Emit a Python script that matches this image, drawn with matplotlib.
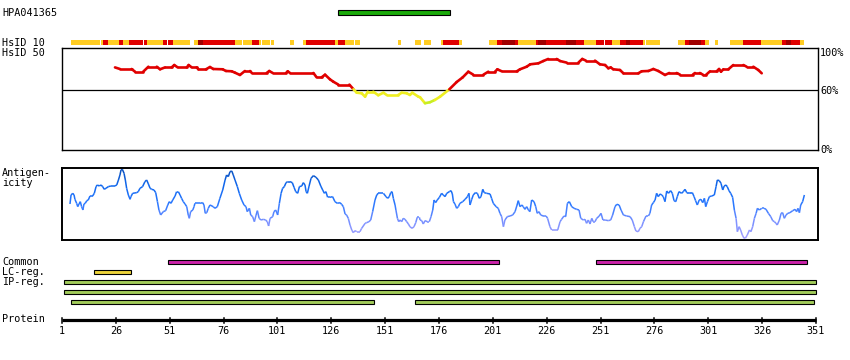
import matplotlib
matplotlib.use("Agg")
import matplotlib.pyplot as plt
from matplotlib.collections import LineCollection
from matplotlib.colors import LinearSegmentedColormap, Normalize

# ---- data (residue positions) ----
antibody = "HPA041365"
seq_len = 351
epitope = (129, 181)

# HsID 10 track: start, end, level (0 = yellow, 1 = red, 2 = dark red)
hs10_start = [5.2, 19.1, 20.0, 22.4, 27.6, 29.2, 32.1, 39.2, 40.5, 47.7, 50.2, 52.5, 62.3, 64.1,
              66.5, 76.3, 81.3, 85.2, 89.1, 92.5, 93.7, 98.0, 106.8, 112.9, 114.3, 127.7, 129.1,
              132.4, 137.0, 157.0, 164.9, 169.0, 176.9, 177.9, 185.3, 199.2, 202.9, 205.2, 211.3,
              212.7, 221.0, 221.9, 225.7, 235.0, 239.6, 243.3, 248.9, 253.1, 256.3, 260.0, 262.8,
              264.7, 270.7, 272.1, 286.9, 290.2, 292.0, 297.6, 299.5, 304.1, 311.1, 317.1, 325.5,
              335.2, 337.1, 339.4, 343.6]
hs10_end = [18.6, 20.0, 22.4, 27.6, 29.2, 32.1, 38.7, 40.5, 47.7, 49.6, 52.5, 60.4, 64.1, 66.5,
            76.1, 81.3, 84.7, 89.1, 92.5, 93.2, 97.6, 99.4, 108.7, 114.3, 127.7, 129.1, 132.4,
            136.5, 139.3, 158.4, 167.6, 172.3, 177.9, 185.3, 186.7, 202.9, 205.2, 211.3, 212.7,
            221.0, 221.9, 225.7, 235.0, 239.6, 243.3, 248.9, 252.6, 256.3, 260.0, 262.8, 264.7,
            270.7, 271.6, 278.6, 290.2, 292.0, 297.6, 299.5, 301.3, 305.5, 317.1, 325.5, 335.2,
            337.1, 339.4, 343.6, 345.4]
hs10_level = [0, 0, 1, 0, 1, 0, 1, 1, 0, 1, 1, 0, 0, 2,
              1, 1, 0, 0, 1, 0, 0, 0, 0, 0, 1, 0, 1,
              0, 0, 0, 0, 0, 0, 1, 0, 0, 1, 2, 1,
              0, 1, 2, 1, 2, 1, 0, 1, 1, 0, 1, 2,
              1, 0, 0, 0, 1, 2, 1, 0, 0, 0, 1, 0,
              1, 2, 1, 0]

# HsID 50 identity (%)
hs50_pos = [25.6, 27.9, 33.3, 34.9, 38.7, 41.1, 45.0, 46.5, 48.8, 51.9, 53.1, 54.7, 58.9, 59.8,
            61.2, 63.5, 64.3, 67.8, 69.7, 71.2, 75.6, 77.1, 79.8, 81.3, 83.6, 85.9, 88.3, 89.1,
            96.0, 97.2, 98.8, 105.0, 105.8, 106.8, 117.7, 119.2, 121.5, 123.1, 125.4, 126.9,
            129.3, 134.4, 136.3, 137.8, 140.1, 141.7, 142.9, 145.5, 147.8, 150.2, 151.7, 157.1,
            158.7, 161.0, 162.5, 163.6, 166.4, 167.2, 169.5, 171.8, 174.1, 176.5, 180.8, 184.2,
            187.0, 189.6, 191.9, 196.6, 198.9, 202.0, 203.1, 205.1, 212.1, 213.6, 216.7, 218.3,
            222.1, 224.4, 226.7, 230.6, 232.2, 235.3, 240.7, 242.5, 244.2, 248.4, 250.7, 253.1,
            254.6, 255.7, 256.9, 260.0, 261.6, 268.5, 270.1, 273.2, 275.5, 277.8, 280.9, 282.9,
            286.3, 287.9, 293.8, 294.8, 297.1, 298.7, 299.9, 301.8, 304.9, 306.0, 306.9, 308.0,
            310.3, 312.6, 317.3, 318.8, 321.9, 324.2, 325.8]
hs50_pct = [83, 81.4, 81.4, 78.7, 78.7, 83.7, 83.7, 81.1, 83, 83, 85.4, 83, 83, 85.4,
            83, 83, 81.1, 81.1, 83.4, 81.4, 81.1, 79.4, 79.1, 77.7, 75.4, 79.4, 79.4, 77.4,
            77.4, 79.4, 77.4, 77.4, 79.1, 77.4, 77.4, 73, 73, 75.7, 71, 68.7,
            65.7, 65.7, 61, 57.6, 57, 53.6, 58.6, 58.6, 55, 57.6, 55.3, 55.3,
            57.6, 57, 55.3, 57.6, 53.6, 53, 47, 48, 50.3, 53.6, 61, 68.3,
            73, 78.7, 75.7, 75.7, 78.7, 78.7, 81.1, 79.1, 79.1, 81.1, 83.7, 86.1,
            87.1, 89.4, 91.5, 91.5, 89.4, 87.8, 87.8, 91.5, 89.8, 89.8, 86.1, 85.4,
            82.1, 83, 81.1, 80.4, 77.1, 77.1, 79.1, 79.4, 81.4, 79.4, 75.4, 77.4,
            77.4, 75.7, 75.7, 77.4, 77.4, 75.4, 75.4, 79.1, 79.1, 81.4, 78.7, 81.1,
            81.1, 85.4, 85.4, 83.7, 83.7, 80.4, 77.1]

# antigenicity score (arbitrary units)
antigen_pos = [4.7, 5.2, 6.0, 6.6, 7.0, 7.8, 8.3, 8.9, 9.5, 10.1,
               10.7, 11.2, 11.8, 12.5, 13.2, 14.0, 15.2, 16.0, 16.8, 17.4,
               18.3, 19.1, 19.9, 20.6, 21.4, 22.5, 23.7, 25.6, 26.4, 27.2,
               27.9, 28.4, 29.0, 29.8, 30.4, 31.0, 31.8, 32.6, 33.0, 33.8,
               35.7, 36.4, 37.2, 38.4, 39.5, 40.3, 41.1, 41.9, 42.6, 43.7,
               44.5, 45.3, 46.0, 46.8, 48.0, 49.1, 50.1, 50.8, 51.6, 52.4,
               53.5, 54.2, 55.0, 55.8, 56.5, 57.3, 58.1, 58.9, 59.6, 60.1,
               60.7, 61.7, 62.3, 62.7, 63.5, 65.1, 66.3, 66.9, 67.5, 68.2,
               68.9, 69.7, 71.2, 72.0, 73.1, 74.3, 75.6, 76.7, 77.4, 78.2,
               79.0, 79.8, 80.5, 81.3, 82.4, 83.3, 84.4, 85.5, 86.4, 87.0,
               88.0, 88.6, 89.5, 90.3, 91.1, 91.7, 92.5, 93.4, 94.5, 95.5,
               96.3, 96.9, 97.6, 98.8, 99.4, 100.2, 101.1, 101.9, 102.7, 103.4,
               104.2, 105.0, 105.8, 106.8, 107.9, 108.7, 109.5, 110.4, 111.2, 112.3,
               113.0, 113.8, 114.3, 114.9, 115.7, 116.6, 117.7, 118.9, 120.0, 121.1,
               122.0, 122.8, 123.5, 124.3, 125.4, 126.6, 127.7, 128.8, 130.0, 130.8,
               131.6, 132.4, 133.1, 133.9, 134.7, 135.5, 136.2, 137.0, 137.8, 139.3,
               140.1, 141.7, 142.4, 143.5, 144.3, 145.2, 146.3, 147.1, 147.8, 150.2,
               151.4, 152.2, 152.9, 153.6, 154.2, 154.8, 155.6, 156.0, 156.7, 157.3,
               157.9, 158.7, 159.4, 160.2, 161.0, 161.8, 162.5, 163.5, 164.4, 165.2,
               165.9, 166.9,
               167.2, 168.0, 168.7, 169.5, 170.6, 171.5, 172.3, 173.1, 173.7, 174.4,
               175.2, 176.2, 177.2, 178.0, 178.8, 179.6, 180.8, 181.6, 182.2, 182.7,
               183.4, 184.2, 185.0, 185.7, 187.0, 188.1, 189.2, 189.9, 190.4, 191.2,
               191.9, 192.9, 193.8, 194.7, 195.5, 196.3, 197.0, 198.1, 199.7, 200.4,
               201.2, 202.5, 203.5, 204.3, 205.1, 205.9, 206.6, 207.7, 209.0, 210.2,
               211.3, 212.1, 212.8, 213.6, 214.5, 215.1, 215.9, 216.7, 217.5, 218.2,
               219.0, 220.1, 220.9, 221.6, 222.4, 223.2, 224.4, 225.7, 226.4, 227.5,
               228.3, 229.8, 231.1, 232.2, 232.9, 234.0, 234.8, 235.6, 236.5, 237.6,
               238.7, 239.9, 241.0, 241.8, 243.0, 243.8, 244.5, 245.3, 246.1, 246.9,
               247.6, 248.4, 249.2, 250.4, 251.2, 252.1, 253.1, 254.6, 255.7, 256.6,
               257.7, 258.5, 259.6, 260.5, 261.6, 263.1, 264.7, 265.7, 266.7, 267.4,
               268.5, 269.3, 270.1, 270.9, 272.1, 273.2, 273.9, 274.7, 275.5, 276.3,
               277.0, 277.8, 278.6, 279.4, 280.1, 280.9, 281.7, 282.5, 283.5, 284.3,
               285.1, 285.9, 286.6, 287.4, 288.6, 289.4, 290.2, 291.0, 291.7, 292.8,
               293.6, 294.4, 295.1, 295.9, 296.8, 297.6, 298.4, 299.2, 299.8, 300.6,
               301.5, 302.6, 303.8, 304.6, 305.2, 306.1, 306.9, 307.7, 308.4, 309.2,
               309.8, 310.6, 311.4, 312.3, 313.1, 313.9, 314.5, 315.3, 316.0, 316.8,
               317.6, 318.2, 319.1, 320.1, 320.8, 321.6, 322.4, 323.2, 323.8, 324.7,
               325.8, 326.9, 327.8, 328.9, 330.0, 330.9, 331.7, 332.4, 333.0, 334.0,
               334.8, 335.5, 336.3, 337.1, 337.9, 338.9, 340.2, 341.3, 342.0, 342.6,
               343.3, 343.9, 344.8, 345.6]
antigen_score = [108, 135, 140, 135, 122, 110, 100, 108, 115, 100,
                 90, 108, 110, 118, 120, 132, 132, 140, 160, 165,
                 162, 165, 160, 152, 155, 160, 162, 162, 165, 180,
                 195, 210, 212, 200, 180, 155, 135, 122, 130, 140,
                 142, 145, 155, 160, 175, 180, 168, 155, 152, 150,
                 142, 115, 90, 75, 85, 88, 105, 115, 110, 120,
                 132, 145, 145, 135, 125, 115, 108, 100, 75, 65,
                 85, 90, 100, 110, 110, 110, 112, 105, 80, 82,
                 95, 105, 100, 95, 100, 125, 150, 180, 195, 190,
                 205, 207, 195, 180, 160, 140, 120, 105, 100, 85,
                 95, 75, 70, 55, 75, 88, 65, 60, 62, 60,
                 55, 42, 65, 70, 85, 90, 75, 110, 140, 155,
                 160, 172, 175, 175, 172, 158, 145, 140, 160, 162,
                 172, 165, 145, 140, 162, 185, 193, 188, 180, 162,
                 150, 140, 145, 128, 128, 130, 115, 110, 112, 107,
                 100, 78, 75, 65, 45, 30, 22, 28, 25, 25,
                 35, 50, 52, 55, 60, 85, 120, 135, 140, 140,
                 130, 125, 130, 142, 145, 125, 105, 90, 65, 55,
                 60, 55, 65, 62, 55, 48, 40, 35, 40, 52,
                 68, 68,
                 60, 58, 48, 58, 55, 55, 70, 90, 120, 112,
                 120, 128, 140, 135, 130, 140, 145, 148, 138, 115,
                 108, 95, 100, 110, 115, 122, 130, 140, 105, 122,
                 135, 142, 140, 125, 130, 152, 142, 140, 138, 125,
                 110, 100, 95, 80, 70, 40, 60, 70, 72, 75,
                 85, 102, 118, 100, 105, 100, 92, 100, 90, 85,
                 120, 115, 100, 80, 85, 75, 72, 72, 65, 40,
                 30, 30, 30, 55, 62, 72, 70, 110, 115, 100,
                 95, 92, 90, 65, 60, 62, 50, 60, 48, 65,
                 55, 55, 65, 72, 80, 60, 60, 58, 60, 75,
                 100, 107, 105, 90, 75, 72, 70, 60, 40, 27,
                 25, 35, 40, 55, 72, 72, 80, 105, 112, 120,
                 140, 130, 138, 135, 130, 115, 147, 140, 148, 140,
                 118, 115, 130, 145, 140, 145, 152, 142, 140, 140,
                 142, 130, 118, 105, 120, 122, 112, 125, 100, 115,
                 130, 132, 135, 160, 180, 178, 170, 150, 162, 165,
                 160, 148, 140, 128, 90, 65, 25, 40, 30, 15,
                 5, 5, 15, 30, 25, 40, 65, 80, 95, 90,
                 95, 95, 92, 80, 70, 58, 55, 50, 45, 60,
                 80, 82, 65, 75, 80, 82, 88, 92, 85, 95,
                 82, 105, 115, 135]

# feature tracks
common_start, common_end = [50, 249], [204, 347]
lcreg_start, lcreg_end = [16], [33]
ipreg_rows = [[(2, 351)], [(2, 351)], [(5, 146), (165, 350)]]
tick_res = [1, 26, 51, 76, 101, 126, 151, 176, 201, 226, 251, 276, 301, 326, 351]

# ---- layout helpers (pixel based) ----
W, H = 850, 360
PX0, PX_PER_RES = 62.0, 2.1543
FONT = dict(family="DejaVu Sans Mono", fontsize=7.3, color="black")


def res_at(px):
    return 1 + (px - PX0) / PX_PER_RES


fig = plt.figure(figsize=(8.5, 3.6), dpi=100)


def px_axes(left, top, right, bottom):
    ax = fig.add_axes([left / W, 1 - bottom / H, (right - left) / W, (bottom - top) / H])
    ax.set_xlim(res_at(left), res_at(right))
    return ax


def label(x, y, s, ha="left"):
    fig.text(x / W, 1 - y / H, s, ha=ha, va="center", **FONT)


base = px_axes(0, 0, W, H)
base.set_ylim(H, 0)
base.axis("off")

# epitope bar
base.barh(12.3, epitope[1] - epitope[0], left=epitope[0], height=4.6,
          color="#1aaa0a", edgecolor="black", linewidth=0.8)

# HsID 10 track
hs10_colors = ["#ffcc22", "#e00000", "#a00000"]
for s, e, lv in zip(hs10_start, hs10_end, hs10_level):
    base.barh(42.5, e - s, left=s, height=5, color=hs10_colors[lv], linewidth=0)

# feature bars
def feature_row(y, starts, ends, color):
    for s, e in zip(starts, ends):
        base.barh(y, e - s, left=s, height=4, color=color, edgecolor="black", linewidth=0.8)


feature_row(262.3, common_start, common_end, "#cc22aa")
feature_row(272.3, lcreg_start, lcreg_end, "#eed43a")
for i, row in enumerate(ipreg_rows):
    feature_row(282.3 + 10 * i, [r[0] for r in row], [r[1] for r in row], "#a2cc5a")

# protein axis
base.plot([1, seq_len], [319.5, 319.5], color="black", lw=2.3, solid_capstyle="butt")
for t in tick_res:
    base.plot([t, t], [318, 322.8], color="black", lw=1.1)
    label(PX0 + (t - 1) * PX_PER_RES, 331, str(t), ha="center")

# ---- HsID 50 panel ----
ax1 = px_axes(62, 48.3, 818, 150)
ax1.set_ylim(0, 102.2)
ax1.set_xticks([])
ax1.set_yticks([])
for sp in ax1.spines.values():
    sp.set_linewidth(1.0)
ax1.axhline(60, color="black", lw=0.9)
segs, cols = [], []
for i in range(len(hs50_pos) - 1):
    segs.append([(hs50_pos[i], hs50_pct[i]), (hs50_pos[i + 1], hs50_pct[i + 1])])
    m = (hs50_pct[i] + hs50_pct[i + 1]) / 2
    cols.append("#e00000" if m >= 60 else ("#eeee22" if m >= 50 else "#c8ee22"))
ax1.add_collection(LineCollection(segs, colors=cols, linewidths=1.9, capstyle="round"))

label(820, 52.5, "100%")
label(820, 90.7, "60%")
label(820, 150, "0%")

# ---- Antigenicity panel ----
ax2 = px_axes(62, 168.3, 818, 240)
ax2.set_ylim(0, 215)
ax2.set_xticks([])
ax2.set_yticks([])
for sp in ax2.spines.values():
    sp.set_linewidth(1.4)
cmap = LinearSegmentedColormap.from_list(
    "ag", ["#aaa2ff", "#7a90ff", "#2a78ff", "#1068f0", "#0a4eb8"])
norm = Normalize(0, 215)
segs, cols = [], []
for i in range(len(antigen_pos) - 1):
    segs.append([(antigen_pos[i], antigen_score[i]), (antigen_pos[i + 1], antigen_score[i + 1])])
    cols.append(cmap(norm((antigen_score[i] + antigen_score[i + 1]) / 2)))
ax2.add_collection(LineCollection(segs, colors=cols, linewidths=1.1))

# ---- left labels ----
label(2, 13, antibody)
label(2, 42.5, "HsID 10")
label(2, 52.5, "HsID 50")
label(2, 173, "Antigen-")
label(2, 183, "icity")
label(2, 262, "Common")
label(2, 272, "LC-reg.")
label(2, 282, "IP-reg.")
label(2, 319, "Protein")

fig.savefig("out.png", dpi=100)
